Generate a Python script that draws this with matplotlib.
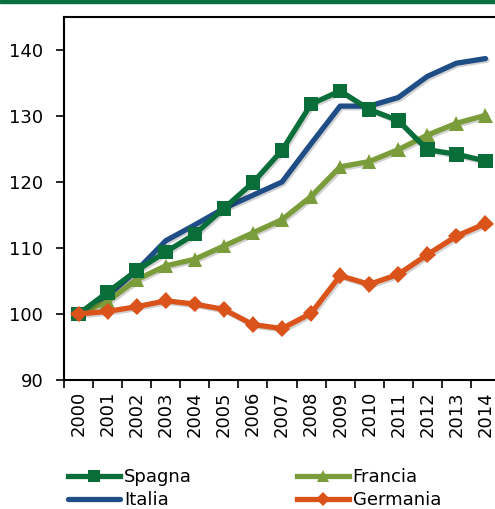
import matplotlib
matplotlib.use('Agg')
import matplotlib.pyplot as plt
import matplotlib.patheffects as pe
from matplotlib.patches import Rectangle

# Dati (indice 2000 = 100)
anni = [str(a) for a in range(2000, 2015)]
spagna = [100, 103.3, 106.6, 109.4, 112.1, 116.0, 119.9, 124.8, 131.8, 133.8, 131.0, 129.3, 124.9, 124.2, 123.2]
italia = [100, 102.8, 106.6, 111.1, 113.5, 116.0, 118.0, 120.0, 125.8, 131.5, 131.5, 132.8, 136.0, 138.0, 138.7]
francia = [100, 101.9, 105.2, 107.3, 108.3, 110.3, 112.3, 114.3, 117.8, 122.3, 123.1, 124.9, 127.1, 128.9, 130.1]
germania = [100, 100.4, 101.1, 102.0, 101.5, 100.7, 98.4, 97.8, 100.1, 105.8, 104.5, 106.0, 109.0, 111.8, 113.7]

plt.rcParams['font.family'] = ['DejaVu Sans']

fig = plt.figure(figsize=(4.95, 5.09), dpi=100)
fig.patches.append(Rectangle((0, 1 - 3 / 509), 1, 3 / 509, transform=fig.transFigure,
                             color='#0b6e41', zorder=5))

ax = fig.add_axes([64 / 495, 1 - 380 / 509, 436 / 495, 363 / 509])
x = list(range(len(anni)))

ombra = [pe.SimpleLineShadow(offset=(1.2, -1.2), alpha=0.18), pe.Normal()]

l_it, = ax.plot(x, italia, color='#1f4e87', lw=3.8, label='Italia', path_effects=ombra,
                zorder=2, solid_capstyle='round')
l_fr, = ax.plot(x, francia, color='#7b9c3a', lw=3.8, marker='^', markersize=10.5, label='Francia',
                path_effects=ombra, zorder=3, markeredgewidth=0)
l_sp, = ax.plot(x, spagna, color='#0a6e3a', lw=3.8, marker='s', markersize=10.5, label='Spagna',
                path_effects=ombra, zorder=4, markeredgewidth=0)
l_de, = ax.plot(x, germania, color='#d9531b', lw=3.8, marker='D', markersize=8.5, label='Germania',
                path_effects=ombra, zorder=5, markeredgewidth=0)

ax.set_xlim(-0.5, 14.5)
ax.set_ylim(90, 145)
ax.set_yticks(range(90, 141, 10))
ax.set_xticks(x)
ax.set_xticklabels(anni, rotation=90)
ax.set_xticks([i - 0.5 for i in range(16)], minor=True)
ax.tick_params(axis='x', which='major', length=0, pad=8, labelsize=13)
ax.tick_params(axis='x', which='minor', length=6, width=1.2, direction='out')
ax.tick_params(axis='y', length=6, width=1.2, labelsize=13, pad=9)
for s in ['left', 'bottom', 'top']:
    ax.spines[s].set_linewidth(1.5)
ax.spines['right'].set_visible(False)

leg = fig.legend(handles=[l_sp, l_it, l_fr, l_de], ncol=2, loc='upper left',
                 bbox_to_anchor=(68 / 495, 1 - 468 / 509), frameon=False, fontsize=13,
                 handlelength=2.9, handletextpad=0.2, columnspacing=5.8, labelspacing=0.3,
                 borderaxespad=0, borderpad=0, markerscale=0.8)
for h in leg.legend_handles:
    h.set_path_effects([])

fig.savefig('out.png', dpi=100)
